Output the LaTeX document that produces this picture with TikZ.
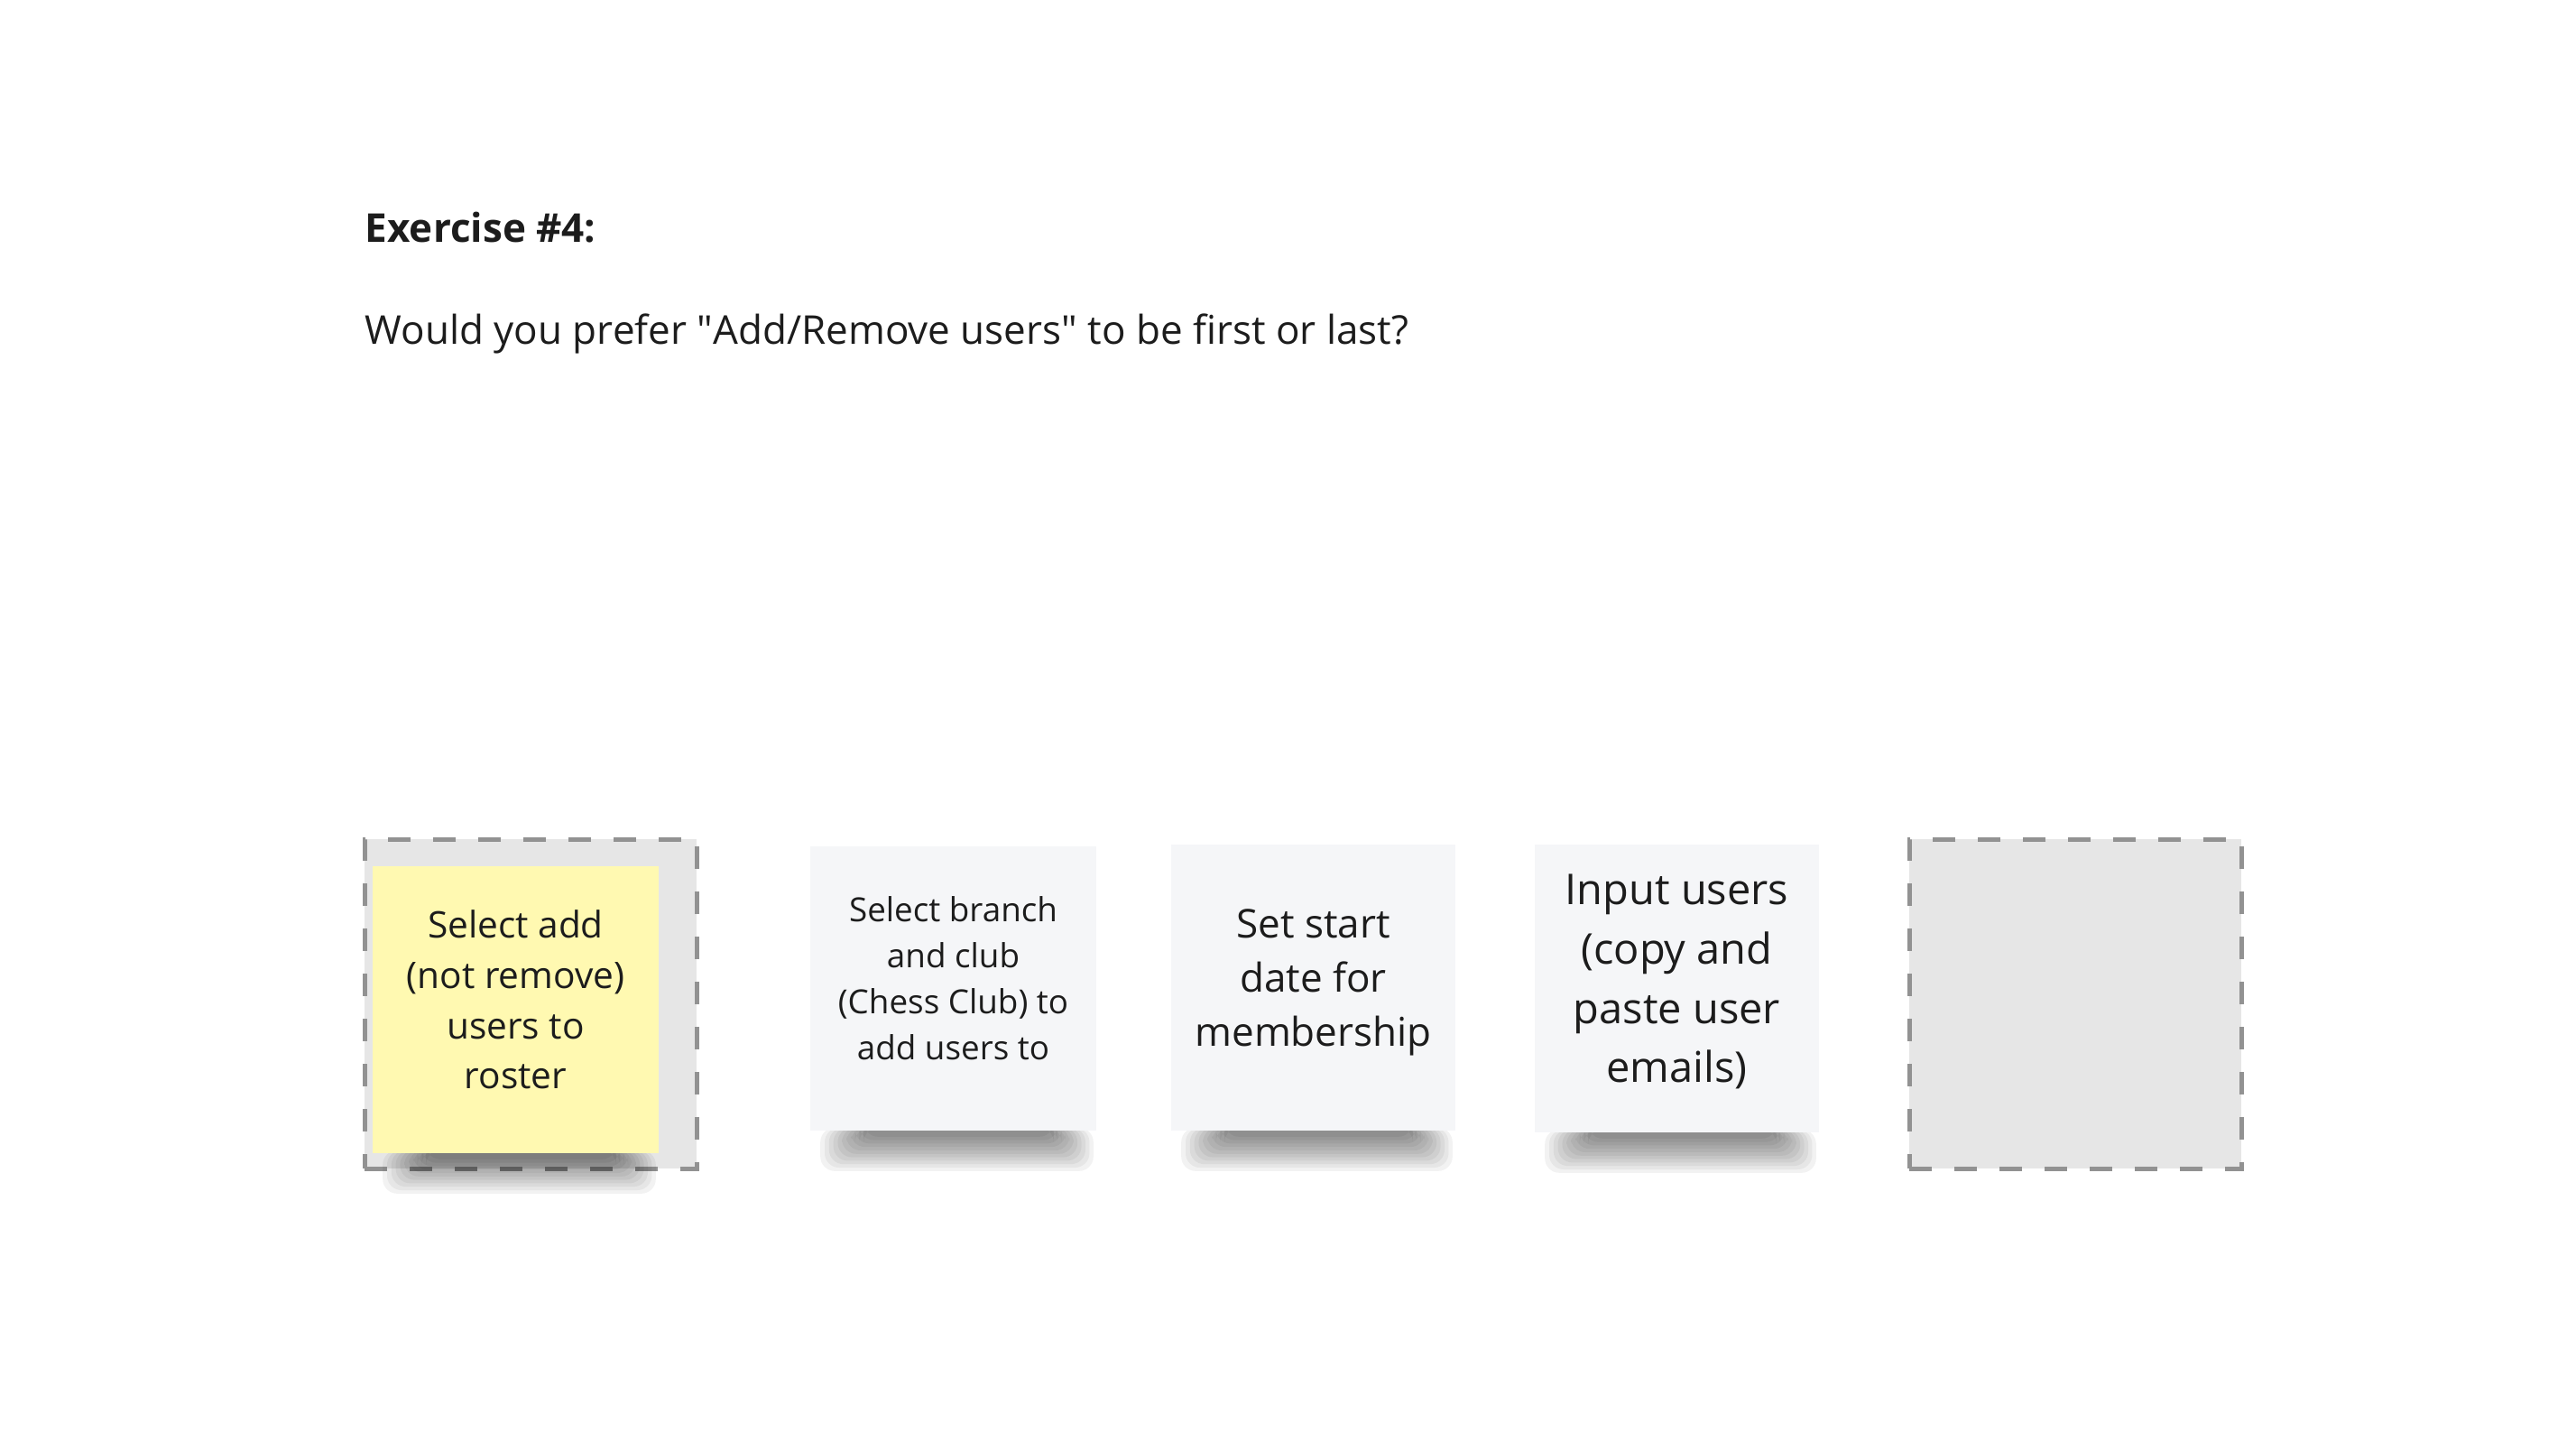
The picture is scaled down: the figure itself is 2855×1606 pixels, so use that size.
\documentclass[tikz,border=0pt]{standalone}
\usepackage{fontspec}
\setmainfont{Open Sans}

\definecolor{notegray}{HTML}{F5F6F8}
\definecolor{noteyellow}{HTML}{FFF9B1}
\definecolor{slotgray}{HTML}{E6E6E6}
\definecolor{slotline}{HTML}{929292}
\definecolor{inkblack}{HTML}{1C1C1C}

\pgfdeclarelayer{slots}
\pgfdeclarelayer{shades}
\pgfsetlayers{slots,shades,main}

\begin{document}
\begin{tikzpicture}[x=0.25pt, y=-0.25pt,
  slot/.style={draw=slotline, fill=slotgray, dash pattern=on 6.25pt off 6.25pt, line width=1.25pt, minimum width=92pt, minimum height=91.25pt, inner sep=0pt},
  note/.style={fill=notegray, minimum width=79.25pt, minimum height=79pt, inner sep=0pt},
  notetext/.style={align=center, text=inkblack, inner sep=0pt},
  notedrop/.style={fill=black, opacity=.05, rounded corners=4pt},
  heading/.style={anchor=base west, inner sep=0pt, text=inkblack}]
\useasboundingbox (0,0) rectangle (2855,1606);

% question text
\node[heading, font=\fontsize{11}{14}\selectfont\bfseries] (title) at (404,268) {Exercise \#4:};
\node[heading, font=\fontsize{11}{14}\selectfont] (question) at (404,381) {Would you prefer \textquotedbl Add/Remove users\textquotedbl{} to be first or last?};

% empty drop zones
\begin{pgfonlayer}{slots}
\node[slot] (first) at (588,1112.5) {};
\node[slot] (last) at (2300,1112.5) {};
\end{pgfonlayer}

% sticky notes
\node[note, fill=noteyellow, minimum height=79.5pt] (add) at (571.5,1119) {};
\node[note, minimum height=78.75pt] (branch) at (1056.5,1095.5) {};
\node[note, minimum width=78.75pt, minimum height=79.25pt] (start) at (1455.5,1094.5) {};
\node[note, minimum width=78.75pt, minimum height=79.75pt] (input) at (1858.5,1095.5) {};

\node[notetext, font=\fontsize{10.15}{13.9}\selectfont] (addtext) at ([yshift=2.75pt]add) {Select add\\(not remove)\\users to\\roster};
\node[notetext, font=\fontsize{9.2}{12.75}\selectfont] (branchtext) at ([yshift=2.75pt]branch) {Select branch\\and club\\(Chess Club) to\\add users to};
\node[notetext, font=\fontsize{11}{15}\selectfont] (starttext) at ([yshift=1.5pt]start) {Set start\\date for\\membership};
\node[notetext, font=\fontsize{11.75}{16.4}\selectfont] (inputtext) at ([yshift=1.8pt]input) {Input users\\(copy and\\paste user\\emails)};

% soft shadows
\begin{pgfonlayer}{shades}
\foreach \n in {add,branch,start,input}
  \foreach \i in {0,...,10}
    \fill[notedrop] ([xshift={(3+1.2*\i)*1pt}, yshift=1pt]\n.south west) rectangle ([xshift={(-1-1.1*\i)*1pt}, yshift={(-11+0.95*\i)*1pt}]\n.south east);
\end{pgfonlayer}
\end{tikzpicture}
\end{document}
